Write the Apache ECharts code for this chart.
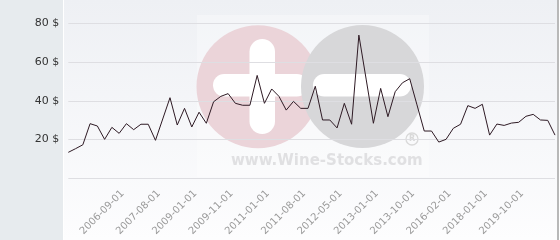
<!DOCTYPE html>
<html>
<head>
<meta charset="utf-8">
<script src="https://cdn.jsdelivr.net/npm/echarts@6/dist/echarts.min.js"></script>
<style>html,body{margin:0;padding:0;background:#fff;}#c{width:560px;height:240px;}</style>
</head>
<body>
<div id="c"></div>
<script>
var dates = ['2005-01-01','2005-04-01','2005-09-01','2006-01-01','2006-03-01','2006-05-01','2006-07-01','2006-09-01','2006-11-01','2007-01-01',
'2007-03-01','2007-06-01','2007-08-01','2007-11-01','2008-02-01','2008-05-01','2008-09-01','2009-01-01','2009-03-01','2009-05-01',
'2009-07-01','2009-09-01','2009-11-01','2010-02-01','2010-05-01','2010-08-01','2010-10-01','2011-01-01','2011-02-01','2011-04-01',
'2011-05-01','2011-07-01','2011-08-01','2011-10-01','2011-12-01','2012-01-01','2012-03-01','2012-05-01','2012-06-01','2012-08-01',
'2012-09-01','2012-11-01','2013-01-01','2013-03-01','2013-04-01','2013-06-01','2013-07-01','2013-10-01','2014-03-01','2014-08-01',
'2015-01-01','2015-06-01','2016-02-01','2016-06-01','2016-11-01','2017-03-01','2017-08-01','2018-01-01','2018-05-01','2018-08-01',
'2018-12-01','2019-03-01','2019-10-01','2020-03-01','2020-08-01','2021-01-01','2021-06-01','2021-11-01'];
var prices = [13.4,15.3,17.3,28.2,27.0,20.1,26.3,23.2,28.2,25.1,
27.9,27.9,19.6,30.6,41.6,27.5,36.1,26.5,34.1,28.4,
39.5,42.3,43.7,38.7,37.7,37.7,53.1,38.7,46.1,42.3,
35.2,39.7,36.1,36.1,47.5,30.1,30.1,26.0,38.7,27.9,
73.9,51.2,28.4,46.4,31.8,44.7,49.3,51.4,37.9,24.4,
24.4,18.7,20.1,25.8,27.9,37.5,36.1,38.2,22.3,28.0,
27.3,28.5,28.9,32.0,33.0,30.1,29.9,22.3];
var yTicks = [0,20,40,60,80];
var labelIdx = [7,12,17,22,27,32,37,42,47,52,57,62];

var chart = echarts.init(document.getElementById('c'), null, {renderer:'canvas'});
chart.setOption({
  animation:false,
  graphic:[
    {type:'rect', z:-10, shape:{x:0,y:0,width:63,height:240}, style:{fill:'#e7ebee'}},
    {type:'rect', z:-10, shape:{x:64,y:0,width:494,height:240},
      style:{fill:new echarts.graphic.LinearGradient(0,0,0,1,[{offset:0,color:'#eef0f4'},{offset:1,color:'#fdfdfe'}])}},
    {type:'rect', z:-10, shape:{x:557,y:0,width:2,height:240}, style:{fill:'#b8b8b8'}},
    {type:'rect', z:-9, shape:{x:197,y:15,width:232,height:162}, style:{fill:'rgba(255,255,255,0.3)'}},
    {type:'circle', z:-8, shape:{cx:258,cy:86.7,r:61.5}, style:{fill:'#ebd4d9'}},
    {type:'rect', z:-7, shape:{x:249.5,y:39,width:25.5,height:95,r:12.7}, style:{fill:'#ffffff'}},
    {type:'rect', z:-7, shape:{x:213,y:74,width:95,height:22.5,r:11.2}, style:{fill:'#ffffff'}},
    {type:'circle', z:-6, shape:{cx:362.5,cy:86.5,r:61.5}, style:{fill:'#d7d7d9'}},
    {type:'rect', z:-5, shape:{x:313,y:74,width:98,height:22.5,r:11.2}, style:{fill:'#ffffff'}},
    {type:'circle', z:-5, shape:{cx:412,cy:139,r:6}, style:{fill:'none',stroke:'#d9d9d9',lineWidth:1.3}},
    {type:'text', z:-5, x:412, y:139, style:{text:'R',fill:'#d9d9d9',font:'bold 8px "DejaVu Sans"',align:'center',textAlign:'center',verticalAlign:'middle'}},
    {type:'text', z:-5, x:231, y:161, style:{text:'www.Wine-Stocks.com',fill:'#e0e0e2',font:'bold 15px "DejaVu Sans"',align:'left',textAlign:'left',verticalAlign:'middle'}}
  ],
  grid:{left:68.3, right:5, top:23.3, bottom:61.7, containLabel:false},
  xAxis:{
    type:'category', data:dates, boundaryGap:false, z:1,
    axisLine:{show:false}, axisTick:{show:false}, splitLine:{show:false},
    axisLabel:{
      rotate:45, margin:10, color:'#9a9a9a', fontSize:10, fontFamily:'DejaVu Sans', verticalAlign:'top',
      interval:function(i){return labelIdx.indexOf(i)>=0;}
    }
  },
  yAxis:{
    type:'value', min:yTicks[0], max:yTicks[yTicks.length-1], interval:20, z:1,
    axisLine:{show:false}, axisTick:{show:false},
    splitLine:{show:true, lineStyle:{color:'#dedee2', width:1}},
    axisLabel:{margin:9, color:'#333', fontSize:11, fontFamily:'DejaVu Sans',
      formatter:function(v){return v===0?'':v+' $';}}
  },
  series:[{
    type:'line', data:prices, z:3, symbol:'none', smooth:false,
    lineStyle:{color:'#2e1a24', width:1}
  }]
});
</script>
</body>
</html>
